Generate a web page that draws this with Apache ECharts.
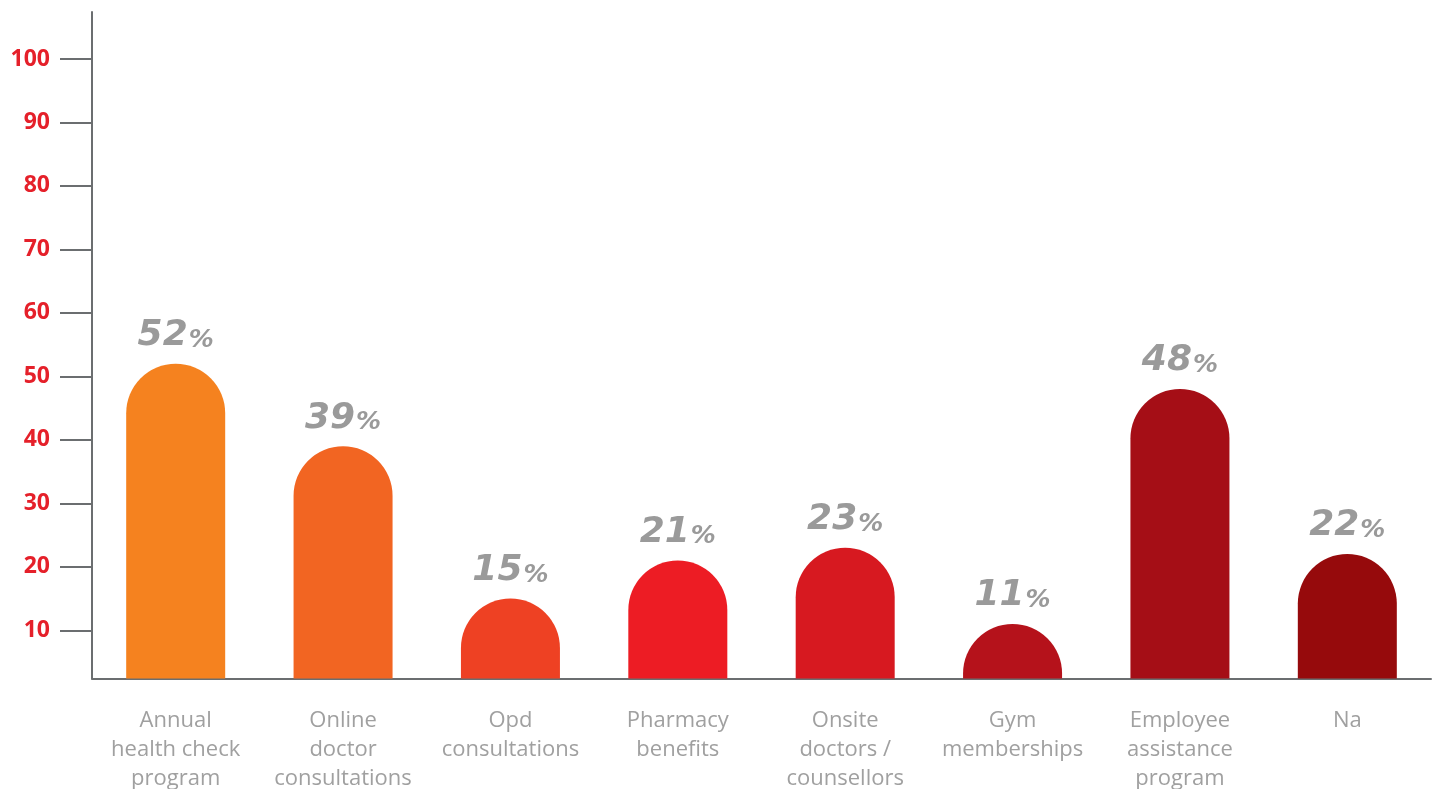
<!DOCTYPE html>
<html>
<head>
<meta charset="utf-8">
<title>Health benefits offered</title>
<script src="https://cdn.jsdelivr.net/npm/echarts@6/dist/echarts.min.js"></script>
<style>
  html, body { margin: 0; padding: 0; background: #ffffff; }
  #chart { width: 1432px; height: 789px; }
</style>
</head>
<body>
<div id="chart"></div>
<script>
// Benefit categories (multi-line labels under each bar)
const categories = [
  'Annual\nhealth check\nprogram',
  'Online\ndoctor\nconsultations',
  'Opd\nconsultations',
  'Pharmacy\nbenefits',
  'Onsite\ndoctors /\ncounsellors',
  'Gym\nmemberships',
  'Employee\nassistance\nprogram',
  'Na'
];

// Share of respondents, in percent
const values = [52, 39, 15, 21, 23, 11, 48, 22];

// Bar fills, running from orange to deep red
const barColors = [
  '#F5821F', '#F26522', '#EE4123', '#ED1C24',
  '#D71920', '#B5121B', '#A50E16', '#960A0C'
];

// Value-axis tick labels
const yTicks = [10, 20, 30, 40, 50, 60, 70, 80, 90, 100];

const chart = echarts.init(document.getElementById('chart'), null, { renderer: 'canvas' });

const axisGray = '#6b6e70';

chart.setOption({
  backgroundColor: '#ffffff',
  animation: false,
  grid: { left: 92, right: 1, top: 12, bottom: 110.5, outerBoundsMode: 'none', containLabel: false },
  xAxis: {
    type: 'category',
    data: categories,
    axisLine: { lineStyle: { color: axisGray, width: 2 } },
    axisTick: { show: false },
    axisLabel: {
      interval: 0,
      margin: 28,
      color: '#a0a0a0',
      fontFamily: 'Open Sans',
      fontSize: 22,
      lineHeight: 29,
      align: 'center'
    }
  },
  yAxis: {
    type: 'value',
    min: 2.4,
    max: 107.4,
    splitLine: { show: false },
    axisLine: { show: true, lineStyle: { color: axisGray, width: 2 } },
    axisTick: {
      show: true,
      length: 32,
      customValues: yTicks,
      lineStyle: { color: axisGray, width: 2 }
    },
    axisLabel: {
      customValues: yTicks,
      margin: 42,
      color: '#E5202A',
      fontFamily: 'Open Sans',
      fontWeight: 'bold',
      fontSize: 23
    }
  },
  series: [{
    type: 'bar',
    barWidth: 99,
    clip: true,
    data: values.map((v, i) => ({
      value: v,
      itemStyle: { color: barColors[i], borderRadius: [50, 50, 0, 0] }
    })),
    label: {
      show: true,
      position: 'top',
      distance: 10,
      formatter: p => '{n|' + p.value + '}{p|%}',
      rich: {
        n: {
          fontFamily: 'DejaVu Sans',
          fontSize: 36,
          fontWeight: 'bold',
          fontStyle: 'italic',
          color: '#9a9a9a',
          lineHeight: 40,
          verticalAlign: 'bottom'
        },
        p: {
          fontFamily: 'DejaVu Sans',
          fontSize: 25,
          fontWeight: 'bold',
          fontStyle: 'italic',
          color: '#9a9a9a',
          lineHeight: 34,
          verticalAlign: 'bottom',
          padding: [0, 0, 1, 1]
        }
      }
    }
  }]
});
</script>
</body>
</html>
